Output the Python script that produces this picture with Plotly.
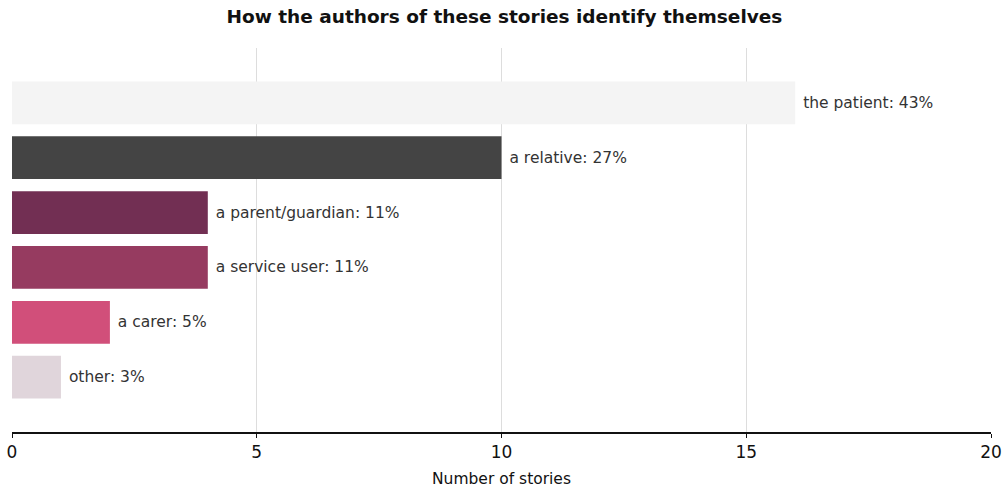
import plotly.graph_objects as go

categories = ["the patient", "a relative", "a parent/guardian", "a service user", "a carer", "other"]
counts = [16, 10, 4, 4, 2, 1]
percents = [43, 27, 11, 11, 5, 3]
colors = ["#f4f4f4", "#444444", "#722f53", "#963b60", "#d14f7a", "#e0d5db"]
x_ticks = [0, 5, 10, 15, 20]

labels = [f"\u00a0{c}: {p}%" for c, p in zip(categories, percents)]

FONT = "DejaVu Sans, Verdana, sans-serif"

fig = go.Figure(go.Bar(
    x=counts,
    y=list(range(len(categories))),
    orientation="h",
    marker=dict(color=colors, line=dict(width=0)),
    width=0.78,
    text=labels,
    textposition="outside",
    cliponaxis=False,
    textfont=dict(family=FONT, size=15.5, color="#333333"),
    hoverinfo="skip",
))

fig.update_layout(
    width=1004, height=493,
    margin=dict(l=12, r=13, t=48, b=61, autoexpand=False),
    paper_bgcolor="white", plot_bgcolor="white",
    title=dict(text="<b>How the authors of these stories identify themselves</b>",
               x=0.503, xanchor="center", xref="paper", yref="container", y=0.9655,
               yanchor="middle",
               font=dict(family=FONT, size=18.5, color="#111111")),
    showlegend=False,
    xaxis=dict(range=[0, 20], tickvals=x_ticks, showgrid=True, gridcolor="#dddddd", gridwidth=1,
               showline=True, linecolor="#111111", linewidth=1.5,
               ticks="outside", ticklen=4, tickcolor="#111111",
               tickfont=dict(family=FONT, size=17, color="#111111"),
               ticklabeloverflow="allow",
               zeroline=False, automargin=False),
    yaxis=dict(range=[6, -1], showticklabels=False, showgrid=False, zeroline=False,
               showline=False, automargin=False),
    annotations=[dict(text="Number of stories", xref="paper", yref="paper", x=0.5, y=-0.1224,
                      xanchor="center", yanchor="middle", showarrow=False,
                      font=dict(family=FONT, size=15.5, color="#111111"))],
)

fig.write_html("out.html", config={"displayModeBar": False},
               post_script="document.body.style.margin='0';document.body.style.overflow='hidden';")
